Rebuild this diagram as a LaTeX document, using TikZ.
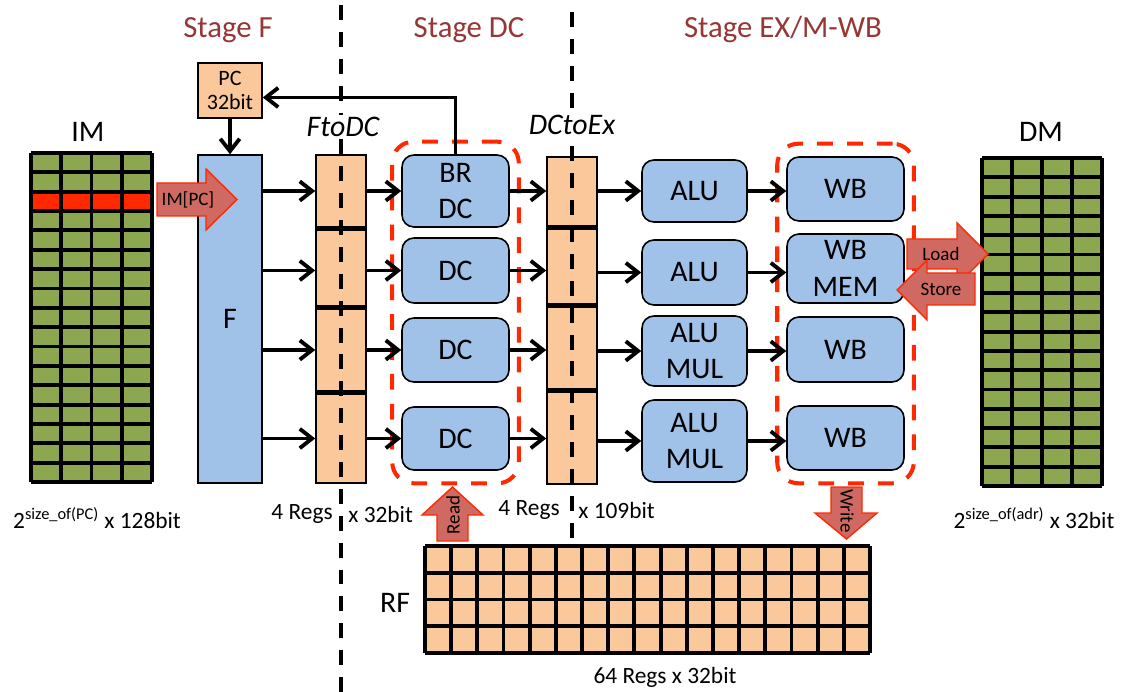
\documentclass[tikz,border=0pt]{standalone}
\usepackage{fontspec}
\setmainfont{Carlito}
\usetikzlibrary{arrows.meta,fit}

\definecolor{stagered}{RGB}{150,55,53}
\definecolor{boxblue}{RGB}{160,194,233}
\definecolor{regorange}{RGB}{250,200,155}
\definecolor{memgreen}{RGB}{141,167,80}
\definecolor{hotred}{RGB}{255,40,0}
\definecolor{arrowred}{RGB}{207,105,98}

\tikzset{
  unit/.style={draw=black, line width=0.9pt, fill=boxblue, rounded corners=6.8pt,
    align=center, inner sep=0pt, font=\fontsize{17}{21}\selectfont},
  regcell/.style={draw=black, line width=0.9pt, fill=regorange, inner sep=0pt, minimum width=1cm},
  divider/.style={line width=2.8pt},
  arr/.style={line width=2.2pt, -{Straight Barb[length=7pt,width=11pt]}},
  group/.style={draw=hotred, line width=2.3pt, dash pattern=on 9pt off 8pt,
    rounded corners=12pt, inner xsep=0.18cm, inner ysep=0.25cm},
  stagedash/.style={line width=2.3pt, dash pattern=on 8.5pt off 6.8pt},
  gridline/.style={line width=2.2pt},
  fatarrow/.style={draw=hotred, line width=0.8pt, fill=arrowred},
  stagelabel/.style={text=stagered, font=\fontsize{17.5}{21}\selectfont, anchor=base},
  biglabel/.style={font=\fontsize{17}{21}\selectfont},
  sizelabel/.style={font=\fontsize{13.3}{16}\selectfont},
  arrlabel/.style={font=\fontsize{10.8}{13}\selectfont, inner sep=0pt}
}

\begin{document}
\begin{tikzpicture}[x=0.02cm, y=-0.02cm]
  \useasboundingbox (0,0) rectangle (1125,692);

  % memories
  \fill[memgreen] (31,153) rectangle (152,482);
  \fill[hotred] (31,191.7) rectangle (152,211);
  \foreach \i in {0,...,17}
    \draw[gridline] (31,153+\i*19.353) -- (152,153+\i*19.353);
  \foreach \j in {0,...,4}
    \draw[gridline] (31+\j*30.25,153) -- (31+\j*30.25,482);

  \fill[memgreen] (982,158) rectangle (1102,486);
  \foreach \i in {0,...,17}
    \draw[gridline] (982,158+\i*19.294) -- (1102,158+\i*19.294);
  \foreach \j in {0,...,4}
    \draw[gridline] (982+\j*30,158) -- (982+\j*30,486);

  \fill[regorange] (425,546) rectangle (870,653);
  \foreach \i in {0,...,4}
    \draw[gridline] (425,546+\i*26.75) -- (870,546+\i*26.75);
  \foreach \j in {0,...,17}
    \draw[gridline] (425+\j*26.176,546) -- (425+\j*26.176,653);

  \node[biglabel] (im) at (88,132) {IM};
  \node[biglabel] (dm) at (1041,132) {DM};
  \node[biglabel] (rf) at (395,603) {RF};
  \node[sizelabel] (imsize) at (97,518) {2\textsuperscript{size\_of(PC)} x 128bit};
  \node[sizelabel] (dmsize) at (1034,518) {2\textsuperscript{size\_of(adr)} x 32bit};
  \node[sizelabel] (rfsize) at (665,677) {64 Regs x 32bit};

  % stage F
  \node[unit, rounded corners=0pt, fill=regorange, minimum width=1.28cm, minimum height=1.10cm,
    font=\fontsize{12.5}{14}\selectfont] (PC) at (230,90.5) {PC\\32bit};
  \node[unit, rounded corners=0pt, minimum width=1.28cm, minimum height=6.56cm] (F) at (230,319) {F};

  \node[regcell, minimum height=1.46cm] (fd1) at (341,191.5) {};
  \node[regcell, minimum height=1.58cm] (fd2) at (341,267.5) {};
  \node[regcell, minimum height=1.70cm] (fd3) at (341,349.5) {};
  \node[regcell, minimum height=1.82cm] (fd4) at (341,437.5) {};

  % stage DC
  \node[unit, minimum width=2.14cm, minimum height=1.44cm] (dc1) at (455.5,191) {BR\\DC};
  \node[unit, minimum width=2.14cm, minimum height=1.30cm] (dc2) at (455.5,270.5) {DC};
  \node[unit, minimum width=2.14cm, minimum height=1.28cm] (dc3) at (455.5,350) {DC};
  \node[unit, minimum width=2.14cm, minimum height=1.26cm] (dc4) at (455.5,438.5) {DC};

  \node[regcell, minimum height=1.40cm] (ex1) at (572,192) {};
  \node[regcell, minimum height=1.56cm] (ex2) at (572,266) {};
  \node[regcell, minimum height=1.70cm] (ex3) at (572,347.5) {};
  \node[regcell, minimum height=1.88cm] (ex4) at (572,437) {};

  \foreach \n in {1,2,3} {
    \draw[divider] (fd\n.south west) -- (fd\n.south east);
    \draw[divider] (ex\n.south west) -- (ex\n.south east);
  }

  % stage EX/M-WB
  \node[unit, minimum width=2.10cm, minimum height=1.24cm] (alu1) at (694.5,191) {ALU};
  \node[unit, minimum width=2.10cm, minimum height=1.30cm] (alu2) at (694.5,272.5) {ALU};
  \node[unit, minimum width=2.10cm, minimum height=1.40cm] (alu3) at (694.5,351) {ALU\\MUL};
  \node[unit, minimum width=2.10cm, minimum height=1.64cm] (alu4) at (694.5,441) {ALU\\MUL};

  \node[unit, minimum width=2.34cm, minimum height=1.28cm] (wb1) at (845.5,189) {WB};
  \node[unit, minimum width=2.34cm, minimum height=1.38cm] (wb2) at (845.5,268.5) {WB\\MEM};
  \node[unit, minimum width=2.34cm, minimum height=1.30cm] (wb3) at (845.5,349.5) {WB};
  \node[unit, minimum width=2.34cm, minimum height=1.28cm] (wb4) at (845.5,438) {WB};

  \node[group, fit=(dc1)(dc4)] (dcgroup) {};
  \node[group, fit=(wb1)(wb4)] (wbgroup) {};

  \foreach \n in {1,...,4} {
    \draw[arr] (F.east |- dc\n.west) -- (fd\n.west |- dc\n.west);
    \draw[arr] (fd\n.east |- dc\n.west) -- (dc\n.west);
    \draw[arr] (dc\n.east) -- (ex\n.west |- dc\n.east);
    \draw[arr] (ex\n.east |- alu\n.west) -- (alu\n.west);
    \draw[arr] (alu\n.east) -- (wb\n.west |- alu\n.east);
  }
  \draw[arr] (PC) -- (F);
  \draw[arr] (dc1.north) |- (PC.-12);

  % fat arrows
  \draw[fatarrow] (157,183) -- (206,183) -- (206,169) -- (237,199.5) -- (206,230) -- (206,216) -- (157,216) -- cycle;
  \node[arrlabel] (impc) at (188,200) {IM[PC]};
  \draw[fatarrow] (907,239) -- (957,239) -- (957,223) -- (988,254) -- (957,285) -- (957,269) -- (907,269) -- cycle;
  \node[arrlabel] (load) at (941,254) {Load};
  \draw[fatarrow] (975,273) -- (927,273) -- (927,260) -- (897,290) -- (927,320) -- (927,305) -- (975,305) -- cycle;
  \node[arrlabel] (store) at (941,289) {Store};
  \draw[fatarrow] (437,541) -- (437,515) -- (422,515) -- (452.5,487) -- (483,515) -- (468,515) -- (468,541) -- cycle;
  \node[arrlabel, rotate=90] (read) at (453,515) {Read};
  \draw[fatarrow] (831,487) -- (862,487) -- (862,513) -- (877,513) -- (846.5,539) -- (815,513) -- (831,513) -- cycle;
  \node[arrlabel, rotate=-90] (write) at (847,511) {Write};

  % pipeline borders
  \draw[stagedash] (341,5) -- (341,692);
  \draw[stagedash] (572,12) -- (572,545);

  \node[biglabel, fill=white, inner sep=1pt, font=\fontsize{17}{21}\selectfont\itshape] (ftodc) at (343,127) {FtoDC};
  \node[biglabel, fill=white, inner sep=1pt, font=\fontsize{17}{21}\selectfont\itshape] (dctoex) at (572,125) {DCtoEx};
  \node[sizelabel, anchor=east, inner sep=0pt] (fdregs) at (333,514) {4 Regs};
  \node[sizelabel, anchor=west, inner sep=0pt] (fdbits) at (348,514) {x 32bit};
  \node[sizelabel, anchor=east, inner sep=0pt] (exregs) at (560,510) {4 Regs};
  \node[sizelabel, anchor=west, inner sep=0pt] (exbits) at (578,510) {x 109bit};

  \node[stagelabel] (stf) at (228,38) {Stage F};
  \node[stagelabel] (stdc) at (469,38) {Stage DC};
  \node[stagelabel] (stex) at (783,38) {Stage EX/M-WB};
\end{tikzpicture}
\end{document}
